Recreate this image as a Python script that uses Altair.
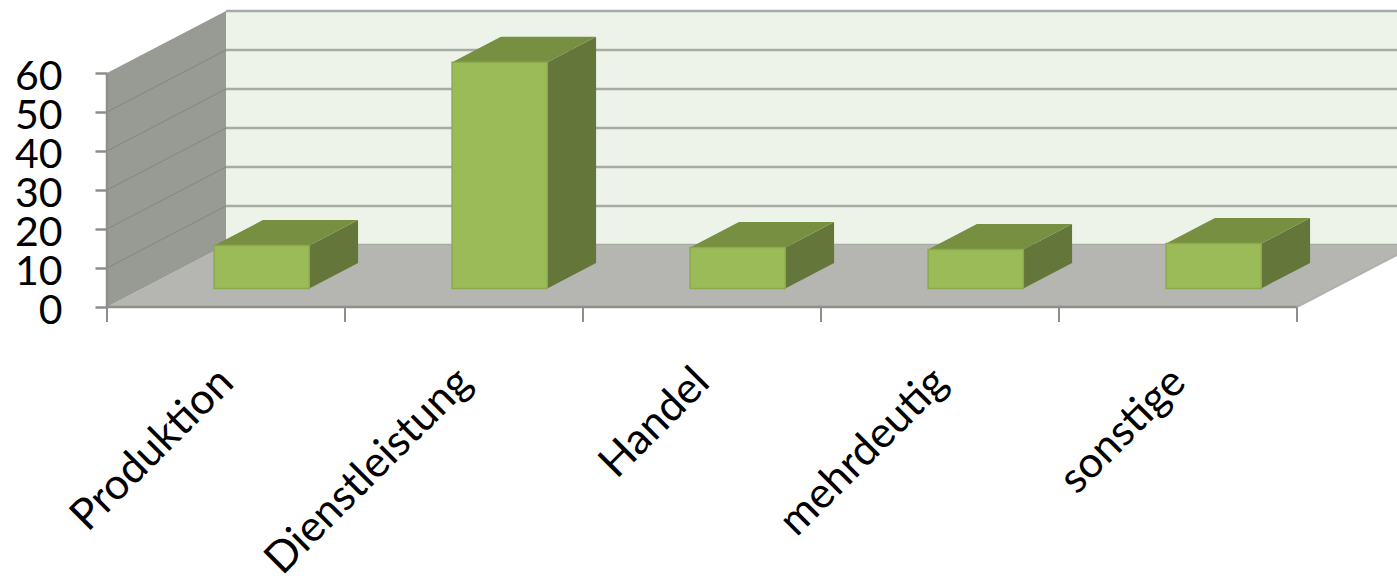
import json
import altair as alt
import pandas as pd

# Survey results per sector
categories = ["Produktion", "Dienstleistung", "Handel", "mehrdeutig", "sonstige"]
values = [11, 58, 10.5, 10, 11.5]
value_ticks = [0, 10, 20, 30, 40, 50, 60]
category_edges = [0, 1, 2, 3, 4, 5]
category_centres = [0.5, 1.5, 2.5, 3.5, 4.5]

# Oblique projection of the depth axis onto the chart plane
DEPTH_X = 0.5      # category units per full depth
DEPTH_Y = 15.9     # value units per full depth
BAR_NEAR, BAR_FAR = 0.3, 0.71
BAR_LEFT, BAR_RIGHT = 0.3, 0.7
PIX_X = 238        # pixels per category
PIX_Y = 3.9        # pixels per value unit
PLOT_W, PLOT_H = 1290, 307

x_scale = alt.Scale(domain=[0, PLOT_W / PIX_X], nice=False, zero=False)
y_scale = alt.Scale(domain=[0, PLOT_H / PIX_Y], nice=False, zero=False)
X = lambda f: alt.X(f, type="quantitative", scale=x_scale, axis=None)
Y = lambda f: alt.Y(f, type="quantitative", scale=y_scale, axis=None)
X2 = lambda f: alt.X2(f)
Y2 = lambda f: alt.Y2(f)

WALL_TOP = 60
WALL_W = PLOT_W / PIX_X

# Back wall and floor
back = pd.DataFrame({"x": [DEPTH_X], "x2": [WALL_W + 1],
                     "y": [DEPTH_Y], "y2": [WALL_TOP + DEPTH_Y]})
back_wall = alt.Chart(back).mark_rect(color="#eef3ea", clip=True).encode(
    x=X("x"), x2=X2("x2"), y=Y("y"), y2=Y2("y2"))

side = pd.DataFrame({"x": [0, DEPTH_X], "y": [0, DEPTH_Y],
                     "y2": [WALL_TOP, WALL_TOP + DEPTH_Y]})
side_wall = alt.Chart(side).mark_area(color="#989a94", clip=True).encode(
    x=X("x"), y=Y("y"), y2=Y2("y2"))

floor = pd.DataFrame({"y": [0, DEPTH_Y], "x": [0, DEPTH_X],
                      "x2": [5, 5 + DEPTH_X]})
floor_area = alt.Chart(floor).mark_area(color="#b5b6b1", orient="horizontal", clip=True).encode(
    y=Y("y"), x=X("x"), x2=X2("x2"))

floor_edge = alt.Chart(pd.DataFrame({"x": [5, 5 + DEPTH_X], "y": [0, DEPTH_Y]})).mark_line(
    color="#b0b0ac", strokeWidth=2, clip=True).encode(x=X("x"), y=Y("y"))

# Gridlines on the back wall
grid_back = pd.DataFrame({"x": [DEPTH_X] * len(value_ticks),
                          "x2": [WALL_W + 1] * len(value_ticks),
                          "y": [v + DEPTH_Y for v in value_ticks]})
back_lines = alt.Chart(grid_back).mark_rule(color="#a9aaa5", strokeWidth=2.5, clip=True).encode(
    x=X("x"), x2=X2("x2"), y=Y("y"))

# Gridlines on the side wall
grid_side = pd.DataFrame([
    {"tick": v, "x": d * DEPTH_X, "y": v + d * DEPTH_Y}
    for v in value_ticks[1:-1] for d in (0, 1)
])
side_lines = alt.Chart(grid_side).mark_line(color="#85877f", strokeWidth=1).encode(
    x=X("x"), y=Y("y"), detail="tick:N")

# Bars: front, side and top faces
front_rows, side_rows, top_rows = [], [], []
for i, (name, v) in enumerate(zip(categories, values)):
    l, r = i + BAR_LEFT, i + BAR_RIGHT
    front_rows.append({"cat": name,
                       "x": l + BAR_NEAR * DEPTH_X, "x2": r + BAR_NEAR * DEPTH_X,
                       "y": BAR_NEAR * DEPTH_Y, "y2": v + BAR_NEAR * DEPTH_Y})
    for d in (BAR_NEAR, BAR_FAR):
        side_rows.append({"cat": name, "x": r + d * DEPTH_X,
                          "y": d * DEPTH_Y, "y2": v + d * DEPTH_Y})
        top_rows.append({"cat": name, "y": v + d * DEPTH_Y,
                         "x": l + d * DEPTH_X, "x2": r + d * DEPTH_X})

bar_side = alt.Chart(pd.DataFrame(side_rows)).mark_area(color="#65763a").encode(
    x=X("x"), y=Y("y"), y2=Y2("y2"), detail="cat:N")
bar_top = alt.Chart(pd.DataFrame(top_rows)).mark_area(color="#768f40", orient="horizontal").encode(
    y=Y("y"), x=X("x"), x2=X2("x2"), detail="cat:N")
bar_front = alt.Chart(pd.DataFrame(front_rows)).mark_rect(
    color="#9bbb59", stroke="#8aab4b", strokeWidth=1.5).encode(
    x=X("x"), x2=X2("x2"), y=Y("y"), y2=Y2("y2"))

# Front axis lines and category ticks
front_line = alt.Chart(pd.DataFrame({"x": [0], "x2": [5], "y": [0]})).mark_rule(
    color="#8e8e8c", strokeWidth=2.5).encode(x=X("x"), x2=X2("x2"), y=Y("y"))
left_line = alt.Chart(pd.DataFrame({"x": [0], "y": [0], "y2": [WALL_TOP]})).mark_rule(
    color="#8e8e8c", strokeWidth=2.5).encode(x=X("x"), y=Y("y"), y2=Y2("y2"))
edge_ticks = alt.Chart(pd.DataFrame({"x": category_edges})).mark_rule(
    color="#8e8e8c", strokeWidth=2).encode(
    x=X("x"), y=alt.value(PLOT_H), y2=alt.value(PLOT_H + 15))

# Axes carrying the value and category labels
label_expr = f"{json.dumps(categories)}[floor(datum.value)]"
axes = alt.Chart(pd.DataFrame({"x": [0], "y": [0]})).mark_point(opacity=0).encode(
    x=alt.X("x:Q", scale=x_scale, title=None, axis=alt.Axis(
        values=category_centres, labelExpr=label_expr, labelAngle=-45,
        labelAlign="right", labelBaseline="middle", labelFontSize=43,
        labelFont="Lato", labelColor="#000000", labelPadding=68, labelOffset=0,
        labelLimit=500, labelOverlap=False, labelBound=False, labelFlush=False,
        ticks=False, domain=False, grid=False)),
    y=alt.Y("y:Q", scale=y_scale, title=None, axis=alt.Axis(
        values=value_ticks, labelFontSize=41, labelFont="Lato",
        labelColor="#000000", labelPadding=33, labelOffset=4, tickSize=12,
        tickWidth=2.5, tickColor="#8e8e8c", domain=False, grid=False,
        labelOverlap=False, labelBound=False, labelFlush=False)),
)

chart = alt.layer(
    back_wall, back_lines, floor_area, floor_edge, side_wall, side_lines,
    bar_side, bar_top, bar_front, front_line, left_line, edge_ticks, axes,
).resolve_axis(x="independent", y="independent").properties(
    width=PLOT_W, height=PLOT_H,
    padding={"left": 107, "top": 0, "right": 0, "bottom": 269},
    autosize=alt.AutoSizeParams(type="none"),
    background="#ffffff",
).configure_view(stroke=None)

chart.save("out.html", embed_options={"renderer": "svg", "actions": False})
